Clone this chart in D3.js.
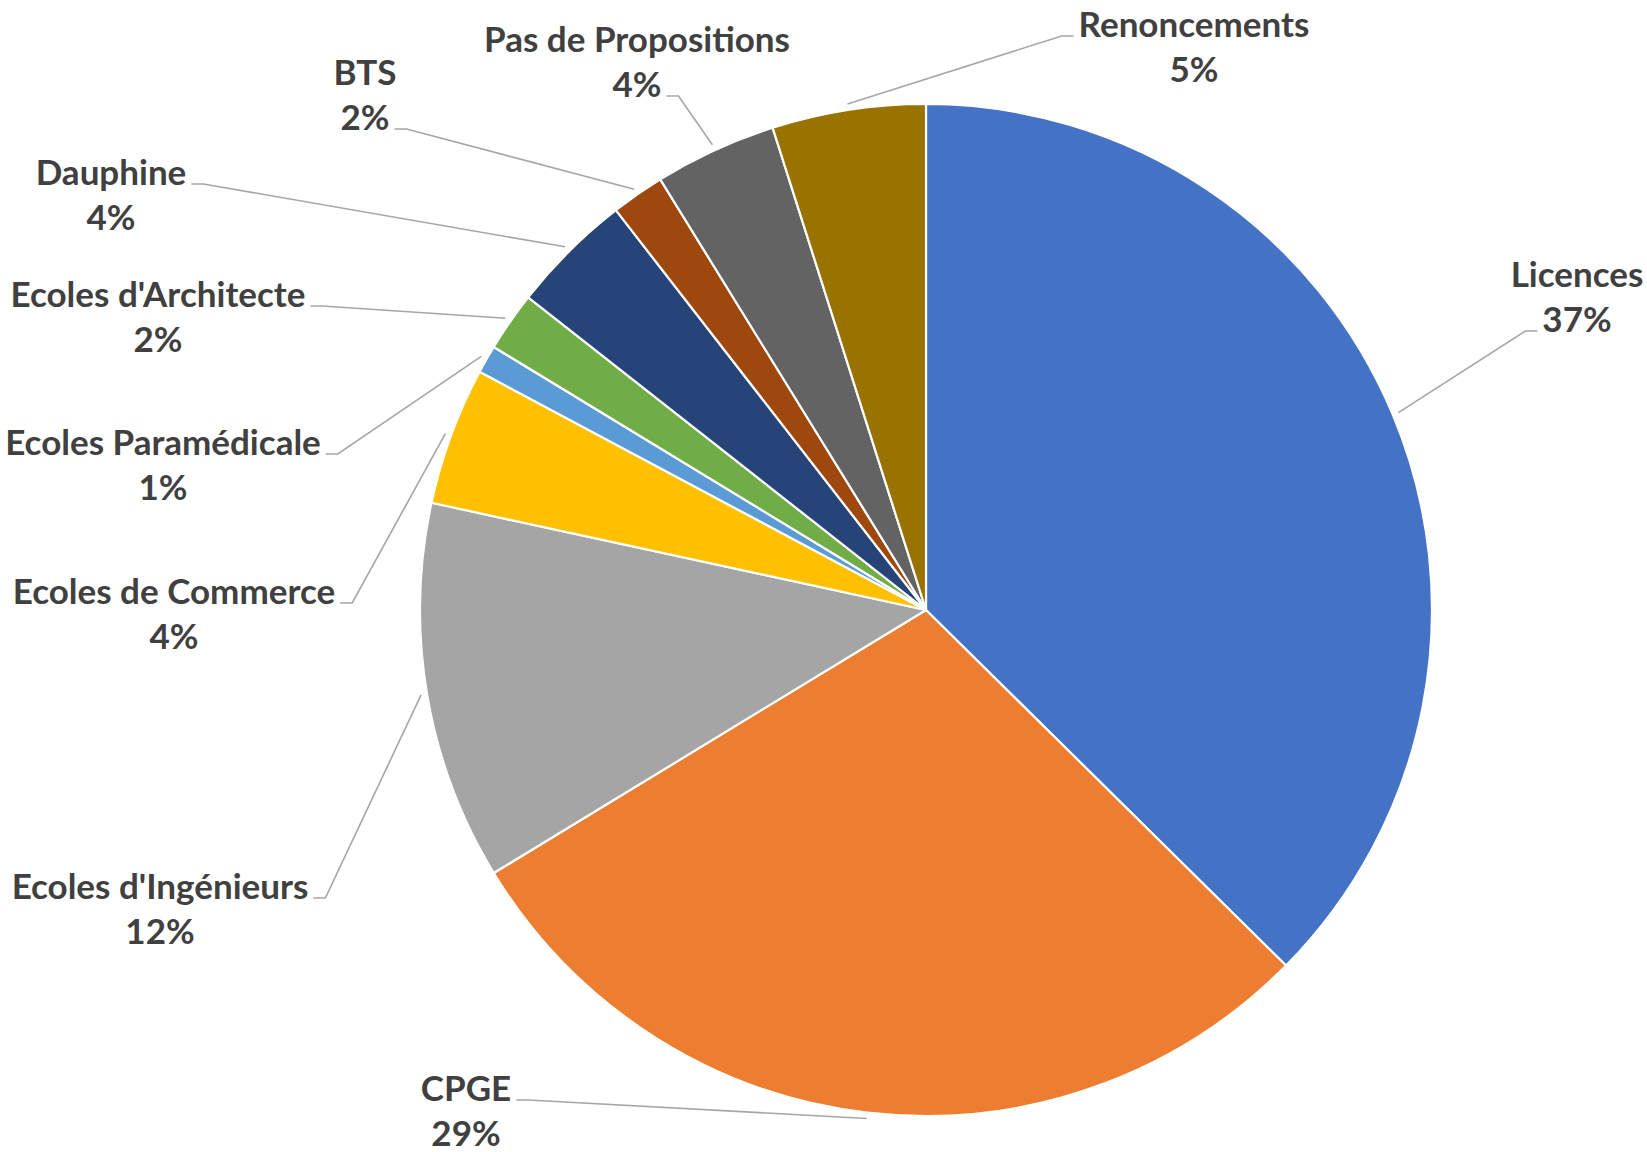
<!DOCTYPE html>
<html>
<head>
<meta charset="utf-8">
<script src="https://cdn.jsdelivr.net/npm/d3@7"></script>
<style>
  body { margin: 0; background: #fff; }
  svg { display: block; }
  .lbl { font-family: Lato, "Open Sans", sans-serif; font-weight: 700; fill: #404040; }
</style>
</head>
<body>
<script>
// categories and shares
var categories = ["Licences", "CPGE", "Ecoles d'Ingénieurs", "Ecoles de Commerce", "Ecoles Paramédicale",
                  "Ecoles d'Architecte", "Dauphine", "BTS", "Pas de Propositions", "Renoncements"];
var values = [37.4, 28.9, 12.1, 4.4, 0.9, 1.9, 3.9, 1.7, 3.9, 4.9];
var colors = ["#4472C4", "#ED7D31", "#A5A5A5", "#FFC000", "#5B9BD5",
              "#70AD47", "#264478", "#9E480E", "#636363", "#997300"];

// where the data labels sit (center x, first baseline), which line the leader hooks to
var labelPos = [
    {x: 1577, y: 287, line: 1, side: "left"},
    {x: 466,  y: 1101, line: 0, side: "right"},
    {x: 160,  y: 899, line: 0, side: "right"},
    {x: 174,  y: 604, line: 0, side: "right"},
    {x: 163,  y: 455, line: 0, side: "right"},
    {x: 158,  y: 307, line: 0, side: "right"},
    {x: 111,  y: 185, line: 0, side: "right"},
    {x: 365,  y: 85,  line: 1, side: "right"},
    {x: 637,  y: 52,  line: 1, side: "right"},
    {x: 1194, y: 37,  line: 0, side: "left"}
];

var width = 1647, height = 1152;
var cx = 926, cy = 610, radius = 506;
var lineGap = 45, fontSize = 35;

var svg = d3.select("body").append("svg")
    .attr("width", width)
    .attr("height", height);

var total = d3.sum(values);
var pie = d3.pie().sort(null).value(function(d) { return d; });
var arcs = pie(values);
var arc = d3.arc().innerRadius(0).outerRadius(radius);

var g = svg.append("g").attr("transform", "translate(" + cx + "," + cy + ")");

g.selectAll("path.slice")
    .data(arcs)
    .enter().append("path")
    .attr("class", "slice")
    .attr("d", arc)
    .attr("fill", function(d, i) { return colors[i]; })
    .attr("stroke", "#fff")
    .attr("stroke-width", 2.2)
    .attr("stroke-linejoin", "round");

// labels
var labels = svg.selectAll("g.label")
    .data(arcs)
    .enter().append("g")
    .attr("class", "label");

labels.each(function(d, i) {
    var p = labelPos[i];
    var t = d3.select(this).append("text")
        .attr("class", "lbl")
        .attr("font-size", fontSize)
        .attr("text-anchor", "middle");
    var lines = [categories[i], Math.round(values[i] / total * 100) + "%"];
    var widths = [];
    lines.forEach(function(s, k) {
        var ts = t.append("tspan")
            .attr("x", p.x)
            .attr("y", p.y + k * lineGap)
            .text(s);
        widths.push(ts.node().getComputedTextLength());
    });

    // leader line: short horizontal stub next to the label, then to the slice
    var w = widths[p.line];
    var ay = p.y + p.line * lineGap - 1;
    var ax = p.side === "right" ? p.x + w / 2 + 5 : p.x - w / 2 - 5;
    var bx = p.side === "right" ? ax + 12 : ax - 12;
    var a = (d.startAngle + d.endAngle) / 2;
    var rr = radius + 6;
    var ex = cx + rr * Math.sin(a), ey = cy - rr * Math.cos(a);

    svg.append("polyline")
        .attr("points", [[ax, ay], [bx, ay], [ex, ey]].map(function(q) { return q.join(","); }).join(" "))
        .attr("fill", "none")
        .attr("stroke", "#A6A6A6")
        .attr("stroke-width", 1.6);
});
</script>
</body>
</html>
